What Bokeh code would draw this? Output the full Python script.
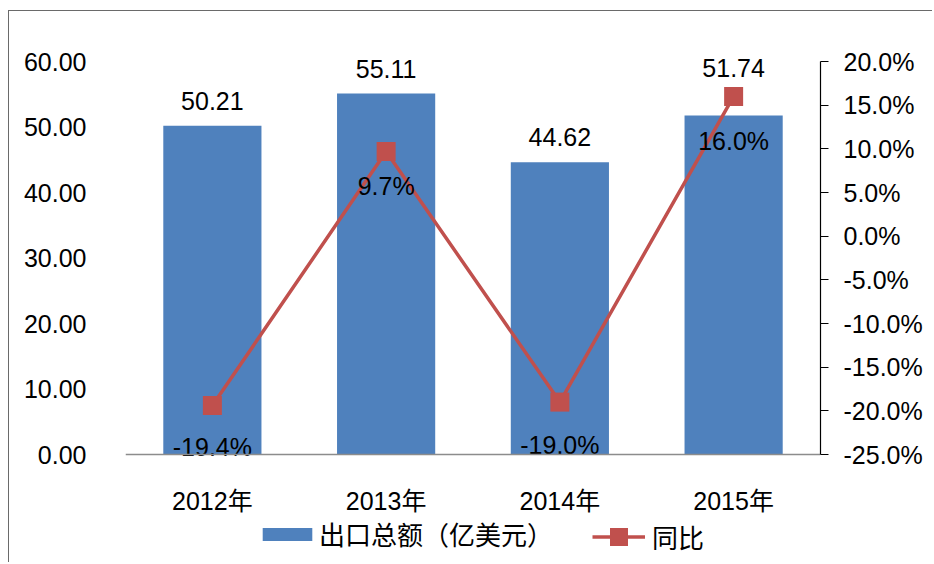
from bokeh.plotting import figure
from bokeh.models import (Range1d, LinearAxis, FixedTicker, PrintfTickFormatter,
                          Legend, LegendItem, ColumnDataSource)
from bokeh.embed import file_html
from bokeh.resources import INLINE
from bokeh.core.properties import value

# ---- data ----
years = ["2012年", "2013年", "2014年", "2015年"]
export_total = [50.21, 55.11, 44.62, 51.74]   # 出口总额（亿美元）
yoy_growth = [-19.4, 9.7, -19.0, 16.0]        # 同比 (%)
left_ticks = [0, 10, 20, 30, 40, 50, 60]
right_ticks = [-25, -20, -15, -10, -5, 0, 5, 10, 15, 20]
bar_legend_label = "出口总额（亿美元）"
line_legend_label = "同比"

# ---- label placement (style, pixels) ----
bar_label_dy = [-25, -25, -25, -48]
line_label_dy = [41, 35, 43, 45]

BLUE = "#4F81BD"
RED = "#C0504D"
FONT = "Liberation Sans, Noto Sans CJK SC"
CJK = "Noto Sans CJK SC"
FS = "25px"

src = ColumnDataSource(dict(
    x=years, v=export_total, r=yoy_growth,
    vl=[f"{v:.2f}" for v in export_total],
    rl=[f"{r:.1f}%" for r in yoy_growth],
    vdy=bar_label_dy, rdy=line_label_dy,
))

# frame spans the whole lower area so the legend sits inside it;
# axes are limited with bounds and the x axis is pinned at y = 0
p = figure(x_range=years, y_range=Range1d(-16.641, 61.985), width=924, height=552,
           output_backend="svg", toolbar_location=None,
           min_border_left=116, min_border_right=113,
           min_border_top=37, min_border_bottom=0)
p.styles = {"margin-left": "8px", "margin-top": "10px",
            "border-left": "1px solid #6a6a6a", "border-top": "1px solid #6a6a6a"}
p.extra_y_ranges = {"pct": Range1d(-37.481, 21.489)}
p.outline_line_color = None
p.xgrid.visible = False
p.ygrid.visible = False
p.background_fill_color = "white"
p.border_fill_color = "white"

# x axis
xa = p.xaxis[0]
xa.fixed_location = 0
xa.axis_line_color = "#8c8c8c"
xa.axis_line_width = 1.5
xa.major_tick_line_color = None
xa.minor_tick_line_color = None
xa.major_label_standoff = 26
xa.major_label_text_font = FONT
xa.major_label_text_font_size = FS
xa.major_label_text_color = "black"

# left axis
ya = p.yaxis[0]
ya.ticker = FixedTicker(ticks=left_ticks)
ya.formatter = PrintfTickFormatter(format="%.2f")
ya.bounds = (0, 60)
ya.axis_line_color = None
ya.major_tick_line_color = None
ya.minor_tick_line_color = None
ya.major_label_standoff = 33
ya.major_label_text_font = FONT
ya.major_label_text_font_size = FS
ya.major_label_text_color = "black"

# right axis
ra = LinearAxis(y_range_name="pct", ticker=FixedTicker(ticks=right_ticks),
                formatter=PrintfTickFormatter(format="%.1f%%"), bounds=(-25, 20))
ra.axis_line_color = "black"
ra.axis_line_width = 1.2
ra.major_tick_line_color = "black"
ra.major_tick_out = 8
ra.major_tick_in = 0
ra.minor_tick_line_color = None
ra.major_label_standoff = 15
ra.major_label_text_font = FONT
ra.major_label_text_font_size = FS
ra.major_label_text_color = "black"
p.add_layout(ra, "right")

bars = p.vbar(x="x", top="v", width=0.565, source=src, fill_color=BLUE, line_color=None)
line = p.line(x="x", y="r", source=src, y_range_name="pct", line_color=RED, line_width=3.5)
marks = p.scatter(x="x", y="r", source=src, y_range_name="pct", marker="square",
                  size=19, fill_color=RED, line_color=None)

p.text(x="x", y="v", text="vl", source=src, text_align="center", text_baseline="middle",
       y_offset="vdy", text_font=value("Liberation Sans"), text_font_size=FS,
       text_color="black")
p.text(x="x", y="r", text="rl", source=src, y_range_name="pct", text_align="center",
       text_baseline="middle", y_offset="rdy", text_font=value("Liberation Sans"),
       text_font_size=FS, text_color="black")


def make_legend(label, renderers, loc, gw, gh, standoff):
    return Legend(items=[LegendItem(label=label, renderers=renderers)], location=loc,
                  orientation="horizontal", background_fill_alpha=0,
                  border_line_color=None, padding=0, margin=0, spacing=0,
                  glyph_width=gw, glyph_height=gh, label_standoff=standoff,
                  label_text_font=CJK, label_text_font_size="26px",
                  label_text_color="black")


p.add_layout(make_legend(bar_legend_label, [bars], (131, 11), 62, 16, 1), "center")
p.add_layout(make_legend(line_legend_label, [line, marks], (467, 4), 53, 45, 7), "center")

open("out.html", "w").write(file_html(p, INLINE))
